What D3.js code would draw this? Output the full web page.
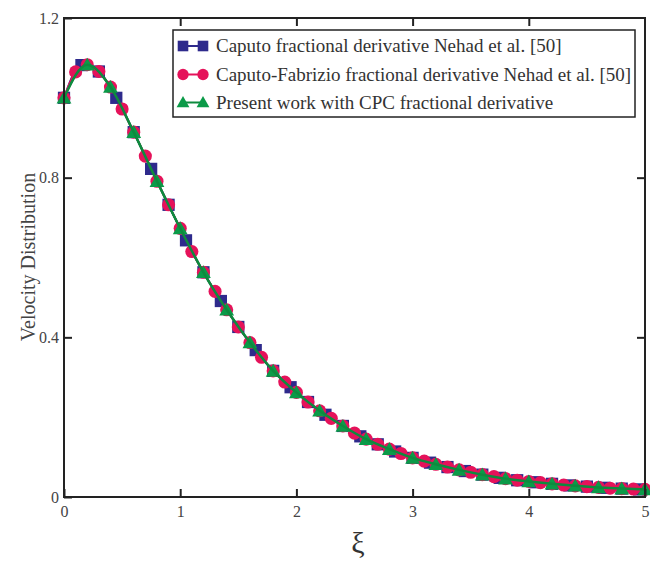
<!DOCTYPE html>
<html><head><meta charset="utf-8">
<script src="https://cdn.jsdelivr.net/npm/d3@7"></script>
<style>body{margin:0;background:#fff;} svg{display:block;} text{font-family:"Liberation Serif","Times New Roman",Times,serif;}</style>
</head><body>
<svg id="chart" width="650" height="561"></svg>
<script>
// ---- data ----
const xTicks = [0, 1, 2, 3, 4, 5];
const yTicks = [0, 0.4, 0.8, 1.2];
const yTickLabels = ["0", "0.4", "0.8", "1.2"];

const caputoX = [0,0.15,0.3,0.45,0.6,0.75,0.9,1.05,1.2,1.35,1.5,1.65,1.8,1.95,2.1,2.25,2.4,2.55,2.7,2.85,3.0,3.15,3.3,3.45,3.6,3.75,3.9,4.05,4.2,4.35,4.5,4.65,4.8,4.95];
const caputoY = [1.0,1.082,1.066,1.0,0.914,0.822,0.732,0.643,0.563,0.491,0.426,0.368,0.316,0.275,0.238,0.206,0.178,0.152,0.132,0.114,0.098,0.086,0.075,0.065,0.056,0.048,0.042,0.037,0.033,0.029,0.026,0.023,0.021,0.019];

const cfX = [0,0.1,0.2,0.3,0.4,0.5,0.6,0.7,0.8,0.9,1.0,1.1,1.2,1.3,1.4,1.5,1.6,1.7,1.8,1.9,2.0,2.1,2.2,2.3,2.4,2.5,2.6,2.7,2.8,2.9,3.0,3.1,3.2,3.3,3.4,3.5,3.6,3.7,3.8,3.9,4.0,4.1,4.2,4.3,4.4,4.5,4.6,4.7,4.8,4.9,5.0];
const cfY = [1.0,1.065,1.083,1.066,1.027,0.972,0.914,0.854,0.791,0.732,0.673,0.615,0.563,0.515,0.469,0.426,0.387,0.35,0.316,0.288,0.262,0.238,0.216,0.197,0.178,0.16,0.145,0.132,0.12,0.109,0.098,0.09,0.082,0.075,0.068,0.062,0.056,0.051,0.046,0.042,0.039,0.036,0.033,0.03,0.028,0.026,0.024,0.022,0.021,0.02,0.019];

const cpcX = [0,0.2,0.4,0.6,0.8,1.0,1.2,1.4,1.6,1.8,2.0,2.2,2.4,2.6,2.8,3.0,3.2,3.4,3.6,3.8,4.0,4.2,4.4,4.6,4.8,5.0];
const cpcY = [1.0,1.083,1.027,0.914,0.791,0.673,0.563,0.469,0.387,0.316,0.262,0.216,0.178,0.145,0.12,0.098,0.082,0.068,0.056,0.046,0.039,0.033,0.028,0.024,0.021,0.019];

const legendLabels = [
  "Caputo fractional derivative Nehad et al. [50]",
  "Caputo-Fabrizio fractional derivative Nehad et al. [50]",
  "Present work with CPC fractional derivative"
];
const colors = ["#2E2A8C", "#E5125A", "#0B9A48"];
const lineGreen = "#0E8A3E";

// ---- layout ----
const svg = d3.select("#chart");
const L = 64, R = 645, T = 18, B = 497;
const x = d3.scaleLinear().domain([0, 5]).range([L, R]);
const y = d3.scaleLinear().domain([0, 1.2]).range([B, T]);
const font = '"Liberation Serif", "Times New Roman", Times, serif';

const series = [
  {xs: caputoX, ys: caputoY, sym: d3.symbolSquare, size: 150, color: colors[0]},
  {xs: cfX, ys: cfY, sym: d3.symbolCircle, size: 135, color: colors[1]},
  {xs: cpcX, ys: cpcY, sym: d3.symbolTriangle, size: 95, color: colors[2]}
];

const line = d3.line().x(d => x(d[0])).y(d => y(d[1])).curve(d3.curveMonotoneX);

series.forEach((s, i) => {
  const pts = s.xs.map((v, j) => [v, s.ys[j]]);
  svg.append("path").datum(pts).attr("d", line)
    .attr("fill", "none").attr("stroke", i === 2 ? lineGreen : s.color).attr("stroke-width", 2);
});

series.forEach((s, i) => {
  const pts = s.xs.map((v, j) => [v, s.ys[j]]);
  svg.append("g").selectAll("path").data(pts).join("path")
    .attr("d", d3.symbol().type(s.sym).size(s.size))
    .attr("transform", d => `translate(${x(d[0])},${y(d[1]) + (i === 2 ? 1.5 : 0)})`)
    .attr("fill", s.color);
});
// green line on top
{
  const pts = cpcX.map((v, j) => [v, cpcY[j]]);
  svg.append("path").datum(pts).attr("d", line)
    .attr("fill", "none").attr("stroke", lineGreen).attr("stroke-width", 2.5);
}

// ---- frame & axes ----
svg.append("rect").attr("x", L).attr("y", T).attr("width", R - L).attr("height", B - T)
  .attr("fill", "none").attr("stroke", "#222").attr("stroke-width", 2);

const tl = 8;
const xAxisB = d3.axisBottom(x).tickValues(xTicks).tickSize(-tl).tickPadding(9).tickFormat(d3.format("d"));
const gxb = svg.append("g").attr("transform", `translate(0,${B})`).call(xAxisB);
const gxt = svg.append("g").attr("transform", `translate(0,${T})`).call(d3.axisTop(x).tickValues(xTicks.slice(1, -1)).tickSize(-tl).tickFormat(""));
const yAxisL = d3.axisLeft(y).tickValues(yTicks).tickSize(-tl).tickPadding(5).tickFormat((d, i) => yTickLabels[i]);
const gyl = svg.append("g").attr("transform", `translate(${L},0)`).call(yAxisL);
const gyr = svg.append("g").attr("transform", `translate(${R},0)`).call(d3.axisRight(y).tickValues(yTicks.slice(1, -1)).tickSize(-tl).tickFormat(""));
[gxb, gxt, gyl, gyr].forEach(g => {
  g.attr("font-family", null);
  g.select(".domain").remove();
  g.selectAll(".tick line").attr("stroke", "#222").attr("stroke-width", 2);
  g.selectAll("text").style("font-family", font).attr("font-size", 16).attr("fill", "#444");
});

// axis titles
svg.append("text").attr("x", 358).attr("y", 553).attr("text-anchor", "middle")
  .style("font-family", font).attr("font-size", 30).attr("fill", "#333").text("ξ");
svg.append("text").attr("transform", "translate(35,257) rotate(-90)").attr("text-anchor", "middle")
  .style("font-family", font).attr("font-size", 20).attr("fill", "#444").text("Velocity Distribution");

// ---- legend ----
const lg = svg.append("g");
lg.append("rect").attr("x", 173).attr("y", 30).attr("width", 462).attr("height", 87)
  .attr("fill", "#fff").attr("stroke", "#222").attr("stroke-width", 1.5);
const rowsY = [46, 74.5, 102.5];
series.forEach((s, i) => {
  const ry = rowsY[i];
  lg.append("line").attr("x1", 183).attr("x2", 203).attr("y1", ry).attr("y2", ry)
    .attr("stroke", i === 2 ? lineGreen : s.color).attr("stroke-width", 2);
  [183, 203].forEach(mx => {
    lg.append("path").attr("d", d3.symbol().type(s.sym).size(s.size * 0.75))
      .attr("transform", `translate(${mx},${ry + (i === 2 ? 1 : 0)})`).attr("fill", s.color);
  });
  lg.append("text").attr("x", 216).attr("y", ry + 6).style("font-family", font)
    .attr("font-size", 19).attr("fill", "#333").text(legendLabels[i]);
});
</script>
</body></html>
